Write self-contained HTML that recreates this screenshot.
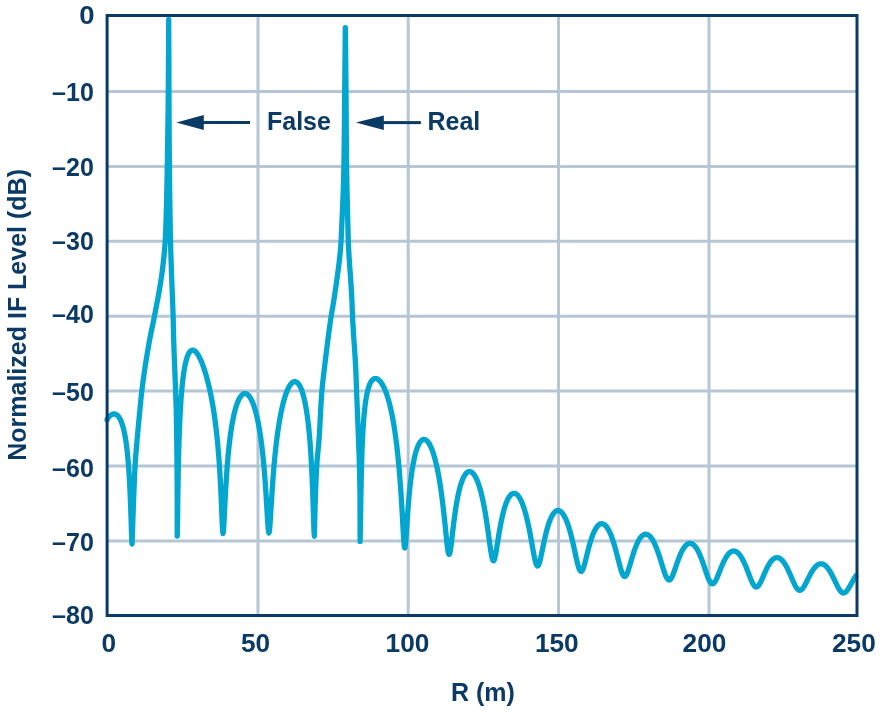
<!DOCTYPE html>
<html><head><meta charset="utf-8"><style>
html,body{margin:0;padding:0;background:#fff;}
svg{display:block;will-change:transform;}
text{font-family:"Liberation Sans",Arial,Helvetica,sans-serif;font-weight:bold;fill:#0b3a66;}
</style></head><body>
<svg width="884" height="714" viewBox="0 0 884 714">
<rect x="0" y="0" width="884" height="714" fill="#fff"/>
<g stroke="#b6c6d4" stroke-width="3" fill="none">
<line x1="107" y1="91.4" x2="857" y2="91.4"/>
<line x1="107" y1="166.4" x2="857" y2="166.4"/>
<line x1="107" y1="241.3" x2="857" y2="241.3"/>
<line x1="107" y1="316.2" x2="857" y2="316.2"/>
<line x1="107" y1="391.1" x2="857" y2="391.1"/>
<line x1="107" y1="466.0" x2="857" y2="466.0"/>
<line x1="107" y1="541.0" x2="857" y2="541.0"/>
<line x1="258.0" y1="15.5" x2="258.0" y2="615.5"/>
<line x1="408.2" y1="15.5" x2="408.2" y2="615.5"/>
<line x1="558.5" y1="15.5" x2="558.5" y2="615.5"/>
<line x1="709.0" y1="15.5" x2="709.0" y2="615.5"/>
</g>
<path d="M107.00 419.68 L107.73 418.54 L108.55 417.41 L109.38 416.44 L110.22 415.63 L111.05 414.97 L111.87 414.48 L112.70 414.14 L113.52 413.96 L114.34 413.94 L115.15 414.09 L115.96 414.40 L116.76 414.89 L117.54 415.55 L118.32 416.41 L119.09 417.45 L119.85 418.70 L120.59 420.17 L121.32 421.86 L122.04 423.80 L122.74 426.00 L123.43 428.49 L124.10 431.28 L124.75 434.40 L125.39 437.90 L126.00 441.79 L126.60 446.14 L127.18 451.00 L127.73 456.42 L128.27 462.50 L128.78 469.31 L129.28 476.99 L129.75 485.65 L130.20 495.41 L130.62 506.35 L131.03 518.28 L131.41 530.34 L131.77 540.16 L132.10 544.00 L132.28 538.10 L132.46 532.21 L132.65 526.31 L132.86 520.42 L133.06 514.52 L133.28 508.63 L133.50 502.73 L133.72 496.84 L133.94 490.94 L134.17 485.04 L134.41 479.15 L134.67 473.25 L134.97 467.36 L135.32 461.46 L135.76 455.57 L136.25 449.67 L136.77 443.78 L137.28 437.88 L137.81 431.99 L138.36 426.09 L138.92 420.19 L139.48 414.30 L140.05 408.40 L140.61 402.51 L141.19 396.61 L141.83 390.72 L142.56 384.82 L143.34 378.93 L144.18 373.03 L145.06 367.13 L145.99 361.24 L146.95 355.34 L147.95 349.45 L148.97 343.55 L150.03 337.66 L151.22 331.76 L152.48 325.87 L153.72 319.97 L154.86 314.08 L155.99 308.18 L157.11 302.28 L158.22 296.39 L159.28 290.49 L160.29 284.60 L161.22 278.70 L162.05 272.81 L162.77 266.91 L163.46 261.02 L164.09 255.12 L164.64 249.22 L165.07 243.33 L165.38 237.43 L165.64 231.54 L165.86 225.64 L166.06 219.75 L166.23 213.85 L166.40 207.96 L166.55 202.06 L166.69 196.17 L166.83 190.27 L166.96 184.37 L167.07 178.48 L167.18 172.58 L167.29 166.69 L167.39 160.79 L167.48 154.90 L167.57 149.00 L167.66 143.11 L167.74 137.21 L167.82 131.31 L167.90 125.42 L167.98 119.52 L168.06 113.63 L168.12 107.73 L168.18 101.84 L168.24 95.94 L168.28 90.05 L168.33 84.15 L168.37 78.26 L168.41 72.36 L168.45 66.46 L168.48 60.57 L168.52 54.67 L168.55 48.78 L168.58 42.88 L168.62 36.99 L168.65 31.09 L168.67 25.20 L168.70 19.30 L168.73 25.11 L168.76 30.91 L168.79 36.72 L168.81 42.52 L168.83 48.33 L168.85 54.13 L168.87 59.94 L168.89 65.74 L168.90 71.55 L168.92 77.36 L168.94 83.16 L168.96 88.97 L168.98 94.77 L169.00 100.58 L169.03 106.38 L169.05 112.19 L169.08 118.00 L169.11 123.80 L169.14 129.61 L169.17 135.41 L169.21 141.22 L169.25 147.02 L169.29 152.83 L169.34 158.63 L169.39 164.44 L169.44 170.25 L169.50 176.05 L169.57 181.86 L169.64 187.66 L169.71 193.47 L169.79 199.27 L169.87 205.08 L169.96 210.89 L170.04 216.69 L170.14 222.50 L170.24 228.30 L170.35 234.11 L170.48 239.91 L170.62 245.72 L170.78 251.52 L170.97 257.33 L171.17 263.14 L171.36 268.94 L171.57 274.75 L171.78 280.55 L172.01 286.36 L172.24 292.16 L172.47 297.97 L172.69 303.78 L172.90 309.58 L173.08 315.39 L173.24 321.19 L173.38 327.00 L173.51 332.80 L173.66 338.61 L173.84 344.41 L174.03 350.22 L174.25 356.03 L174.47 361.83 L174.71 367.64 L174.94 373.44 L175.17 379.25 L175.39 385.05 L175.60 390.86 L175.80 396.67 L175.99 402.47 L176.16 408.28 L176.28 414.08 L176.40 419.89 L176.50 425.69 L176.60 431.50 L176.69 437.30 L176.77 443.11 L176.84 448.92 L176.91 454.72 L176.96 460.53 L177.01 466.33 L177.06 472.14 L177.10 477.94 L177.14 483.75 L177.17 489.56 L177.19 495.36 L177.20 501.17 L177.20 506.97 L177.20 512.78 L177.20 518.58 L177.20 524.39 L177.20 530.19 L177.20 536.00 L177.54 518.83 L177.91 491.73 L178.30 469.28 L178.72 451.45 L179.15 436.95 L179.62 424.84 L180.10 414.52 L180.61 405.60 L181.13 397.80 L181.69 390.94 L182.26 384.87 L182.85 379.50 L183.46 374.73 L184.09 370.51 L184.75 366.79 L185.42 363.52 L186.10 360.67 L186.81 358.21 L187.53 356.12 L188.27 354.37 L189.02 352.94 L189.78 351.82 L190.56 351.00 L191.35 350.45 L192.15 350.17 L192.96 350.14 L193.78 350.35 L194.60 350.79 L195.44 351.45 L196.28 352.32 L197.12 353.39 L197.97 354.66 L198.82 356.11 L199.67 357.74 L200.53 359.53 L201.38 361.50 L202.23 363.62 L203.08 365.89 L203.92 368.31 L204.76 370.88 L205.60 373.59 L206.42 376.44 L207.24 379.44 L208.05 382.58 L208.85 385.87 L209.64 389.30 L210.42 392.89 L211.18 396.65 L211.93 400.57 L212.67 404.68 L213.39 408.99 L214.10 413.51 L214.78 418.26 L215.45 423.28 L216.11 428.57 L216.74 434.18 L217.35 440.15 L217.94 446.51 L218.51 453.31 L219.07 460.62 L219.59 468.47 L220.10 476.94 L220.58 486.04 L221.05 495.75 L221.48 505.87 L221.90 515.94 L222.29 524.92 L222.66 531.26 L223.00 533.50 L223.34 531.93 L223.71 527.30 L224.10 520.26 L224.52 511.85 L224.96 502.91 L225.42 494.01 L225.91 485.43 L226.41 477.32 L226.94 469.72 L227.50 462.62 L228.07 456.01 L228.66 449.86 L229.28 444.14 L229.91 438.82 L230.56 433.88 L231.23 429.29 L231.92 425.04 L232.63 421.11 L233.35 417.48 L234.09 414.13 L234.84 411.07 L235.61 408.27 L236.39 405.74 L237.18 403.45 L237.98 401.41 L238.79 399.62 L239.61 398.06 L240.44 396.74 L241.28 395.64 L242.12 394.77 L242.96 394.13 L243.82 393.71 L244.67 393.52 L245.52 393.54 L246.38 393.79 L247.23 394.25 L248.08 394.94 L248.94 395.84 L249.78 396.97 L250.62 398.31 L251.46 399.88 L252.29 401.68 L253.11 403.70 L253.92 405.95 L254.72 408.44 L255.51 411.17 L256.29 414.13 L257.06 417.35 L257.81 420.82 L258.55 424.55 L259.27 428.56 L259.98 432.85 L260.67 437.43 L261.34 442.32 L261.99 447.53 L262.62 453.07 L263.24 458.97 L263.83 465.23 L264.40 471.87 L264.96 478.87 L265.49 486.23 L265.99 493.89 L266.48 501.74 L266.94 509.56 L267.38 517.02 L267.80 523.62 L268.19 528.77 L268.56 531.97 L268.90 533.00 L269.24 532.14 L269.61 529.37 L270.00 524.76 L270.41 518.68 L270.84 511.61 L271.30 504.01 L271.78 496.24 L272.28 488.53 L272.81 481.02 L273.36 473.78 L273.92 466.86 L274.51 460.27 L275.12 454.01 L275.75 448.06 L276.40 442.43 L277.06 437.10 L277.75 432.05 L278.45 427.29 L279.16 422.79 L279.89 418.55 L280.64 414.56 L281.40 410.82 L282.17 407.31 L282.95 404.04 L283.75 401.00 L284.55 398.18 L285.37 395.59 L286.19 393.22 L287.02 391.07 L287.85 389.14 L288.69 387.43 L289.53 385.94 L290.38 384.66 L291.23 383.61 L292.07 382.77 L292.92 382.16 L293.77 381.77 L294.61 381.61 L295.45 381.67 L296.28 381.96 L297.11 382.49 L297.93 383.25 L298.75 384.25 L299.55 385.50 L300.35 387.00 L301.13 388.76 L301.90 390.79 L302.66 393.09 L303.41 395.67 L304.14 398.56 L304.85 401.75 L305.55 405.27 L306.24 409.13 L306.90 413.37 L307.55 418.00 L308.18 423.06 L308.79 428.59 L309.38 434.64 L309.94 441.27 L310.49 448.55 L311.02 456.55 L311.52 465.40 L312.00 475.18 L312.46 486.00 L312.89 497.87 L313.30 510.50 L313.69 522.88 L314.06 532.58 L314.40 536.30 L314.50 530.59 L314.62 524.87 L314.75 519.16 L314.90 513.44 L315.06 507.73 L315.24 502.01 L315.42 496.30 L315.62 490.58 L315.83 484.87 L316.07 479.15 L316.34 473.44 L316.64 467.72 L317.00 462.01 L317.49 456.30 L318.05 450.58 L318.60 444.87 L319.06 439.15 L319.44 433.44 L319.77 427.72 L320.07 422.01 L320.36 416.29 L320.66 410.58 L320.97 404.86 L321.31 399.15 L321.71 393.43 L322.19 387.72 L322.78 382.01 L323.45 376.29 L324.13 370.58 L324.81 364.86 L325.49 359.15 L326.18 353.43 L326.88 347.72 L327.61 342.00 L328.35 336.29 L329.12 330.57 L329.91 324.86 L330.73 319.14 L331.61 313.43 L332.61 307.72 L333.59 302.00 L334.45 296.29 L335.29 290.57 L336.13 284.86 L336.95 279.14 L337.74 273.43 L338.50 267.71 L339.19 262.00 L339.83 256.28 L340.38 250.57 L340.84 244.86 L341.20 239.14 L341.46 233.43 L341.70 227.71 L341.94 222.00 L342.18 216.28 L342.43 210.57 L342.67 204.85 L342.90 199.14 L343.12 193.42 L343.33 187.71 L343.51 181.99 L343.68 176.28 L343.81 170.57 L343.92 164.85 L344.01 159.14 L344.09 153.42 L344.16 147.71 L344.23 141.99 L344.29 136.28 L344.35 130.56 L344.41 124.85 L344.46 119.13 L344.51 113.42 L344.55 107.70 L344.60 101.99 L344.65 96.28 L344.70 90.56 L344.75 84.85 L344.81 79.13 L344.87 73.42 L344.92 67.70 L344.98 61.99 L345.03 56.27 L345.09 50.56 L345.14 44.84 L345.19 39.13 L345.25 33.41 L345.30 27.70 L345.37 33.47 L345.44 39.24 L345.52 45.02 L345.58 50.79 L345.65 56.56 L345.72 62.33 L345.78 68.10 L345.84 73.88 L345.90 79.65 L345.95 85.42 L346.00 91.19 L346.04 96.96 L346.09 102.73 L346.13 108.51 L346.16 114.28 L346.20 120.05 L346.24 125.82 L346.28 131.59 L346.33 137.37 L346.37 143.14 L346.42 148.91 L346.48 154.68 L346.54 160.45 L346.60 166.23 L346.68 172.00 L346.78 177.77 L346.88 183.54 L347.00 189.31 L347.13 195.09 L347.27 200.86 L347.41 206.63 L347.55 212.40 L347.70 218.17 L347.85 223.94 L347.99 229.72 L348.14 235.49 L348.31 241.26 L348.55 247.03 L348.85 252.80 L349.21 258.58 L349.59 264.35 L350.00 270.12 L350.42 275.89 L350.82 281.66 L351.21 287.44 L351.56 293.21 L351.85 298.98 L352.09 304.75 L352.29 310.52 L352.51 316.30 L352.80 322.07 L353.14 327.84 L353.50 333.61 L353.89 339.38 L354.29 345.16 L354.69 350.93 L355.07 356.70 L355.41 362.47 L355.72 368.24 L355.97 374.01 L356.19 379.79 L356.40 385.56 L356.61 391.33 L356.84 397.10 L357.06 402.87 L357.29 408.65 L357.51 414.42 L357.74 420.19 L357.97 425.96 L358.19 431.73 L358.41 437.51 L358.63 443.28 L358.86 449.05 L359.08 454.82 L359.28 460.59 L359.43 466.37 L359.57 472.14 L359.69 477.91 L359.81 483.68 L359.90 489.45 L359.97 495.22 L360.00 501.00 L360.03 506.77 L360.05 512.54 L360.07 518.31 L360.08 524.08 L360.09 529.86 L360.10 535.63 L360.10 541.40 L360.44 526.08 L360.79 501.31 L361.18 480.59 L361.58 464.21 L362.01 451.03 L362.46 440.18 L362.93 431.08 L363.42 423.34 L363.94 416.69 L364.48 410.93 L365.04 405.92 L365.61 401.54 L366.21 397.72 L366.83 394.38 L367.47 391.47 L368.12 388.94 L368.79 386.75 L369.48 384.87 L370.18 383.28 L370.90 381.94 L371.63 380.85 L372.38 379.98 L373.14 379.32 L373.91 378.86 L374.69 378.60 L375.48 378.51 L376.28 378.60 L377.09 378.86 L377.90 379.29 L378.72 379.89 L379.54 380.65 L380.37 381.58 L381.20 382.67 L382.03 383.93 L382.87 385.36 L383.70 386.96 L384.53 388.74 L385.36 390.71 L386.18 392.85 L387.00 395.19 L387.81 397.72 L388.62 400.45 L389.42 403.40 L390.21 406.55 L390.99 409.93 L391.76 413.53 L392.52 417.37 L393.27 421.46 L394.00 425.79 L394.72 430.39 L395.42 435.26 L396.11 440.41 L396.78 445.85 L397.43 451.60 L398.07 457.67 L398.69 464.07 L399.29 470.80 L399.86 477.88 L400.42 485.30 L400.96 493.04 L401.48 501.07 L401.97 509.29 L402.44 517.55 L402.89 525.60 L403.32 533.05 L403.72 539.42 L404.11 544.20 L404.46 547.07 L404.80 548.00 L405.13 547.16 L405.49 544.47 L405.87 540.12 L406.27 534.49 L406.69 528.09 L407.14 521.32 L407.60 514.50 L408.09 507.82 L408.61 501.40 L409.14 495.32 L409.69 489.58 L410.26 484.21 L410.86 479.20 L411.47 474.55 L412.10 470.23 L412.75 466.25 L413.41 462.58 L414.09 459.21 L414.79 456.14 L415.50 453.35 L416.23 450.84 L416.97 448.59 L417.72 446.60 L418.48 444.87 L419.26 443.38 L420.04 442.14 L420.83 441.13 L421.63 440.35 L422.44 439.81 L423.25 439.49 L424.07 439.40 L424.89 439.53 L425.71 439.88 L426.54 440.44 L427.36 441.23 L428.19 442.22 L429.01 443.43 L429.83 444.86 L430.65 446.49 L431.46 448.33 L432.27 450.39 L433.07 452.65 L433.86 455.13 L434.64 457.81 L435.42 460.70 L436.18 463.81 L436.93 467.12 L437.67 470.64 L438.40 474.38 L439.11 478.32 L439.81 482.47 L440.49 486.82 L441.15 491.36 L441.80 496.10 L442.43 501.01 L443.04 506.08 L443.64 511.27 L444.21 516.55 L444.76 521.85 L445.29 527.12 L445.81 532.24 L446.30 537.10 L446.76 541.58 L447.21 545.52 L447.63 548.82 L448.03 551.37 L448.41 553.14 L448.77 554.15 L449.10 554.50 L449.43 554.24 L449.79 553.31 L450.17 551.65 L450.57 549.27 L450.99 546.24 L451.44 542.65 L451.90 538.65 L452.39 534.37 L452.91 529.92 L453.44 525.42 L453.99 520.94 L454.56 516.54 L455.16 512.28 L455.77 508.18 L456.40 504.28 L457.05 500.57 L457.71 497.09 L458.39 493.82 L459.09 490.78 L459.80 487.97 L460.53 485.38 L461.27 483.02 L462.02 480.89 L462.78 478.97 L463.56 477.28 L464.34 475.81 L465.13 474.56 L465.93 473.52 L466.74 472.70 L467.55 472.09 L468.37 471.70 L469.19 471.51 L470.01 471.54 L470.84 471.77 L471.66 472.22 L472.49 472.86 L473.31 473.72 L474.13 474.77 L474.95 476.03 L475.76 477.50 L476.57 479.16 L477.37 481.03 L478.16 483.09 L478.94 485.35 L479.72 487.81 L480.48 490.46 L481.23 493.30 L481.97 496.33 L482.70 499.55 L483.41 502.93 L484.11 506.49 L484.79 510.20 L485.45 514.06 L486.10 518.03 L486.73 522.11 L487.34 526.26 L487.94 530.43 L488.51 534.58 L489.06 538.64 L489.59 542.56 L490.11 546.26 L490.60 549.65 L491.06 552.66 L491.51 555.22 L491.93 557.30 L492.33 558.88 L492.71 559.96 L493.07 560.58 L493.40 560.80 L493.73 560.67 L494.08 560.16 L494.46 559.22 L494.86 557.84 L495.28 556.00 L495.73 553.74 L496.19 551.10 L496.68 548.14 L497.19 544.94 L497.72 541.56 L498.27 538.08 L498.84 534.56 L499.43 531.05 L500.04 527.59 L500.67 524.22 L501.31 520.96 L501.97 517.85 L502.65 514.89 L503.35 512.09 L504.06 509.48 L504.78 507.05 L505.51 504.81 L506.26 502.77 L507.02 500.92 L507.79 499.28 L508.57 497.83 L509.36 496.58 L510.16 495.53 L510.96 494.69 L511.77 494.04 L512.58 493.60 L513.40 493.35 L514.22 493.31 L515.04 493.46 L515.86 493.81 L516.68 494.35 L517.50 495.09 L518.32 496.03 L519.13 497.15 L519.94 498.47 L520.74 499.97 L521.54 501.66 L522.33 503.53 L523.11 505.59 L523.88 507.81 L524.64 510.21 L525.39 512.77 L526.12 515.49 L526.84 518.35 L527.55 521.35 L528.25 524.47 L528.93 527.69 L529.59 531.00 L530.23 534.36 L530.86 537.75 L531.47 541.13 L532.06 544.46 L532.63 547.69 L533.18 550.78 L533.71 553.67 L534.22 556.32 L534.71 558.69 L535.17 560.73 L535.62 562.43 L536.04 563.77 L536.44 564.78 L536.82 565.46 L537.17 565.85 L537.50 566.00 L537.83 565.93 L538.18 565.63 L538.55 565.06 L538.94 564.18 L539.36 563.00 L539.79 561.50 L540.25 559.70 L540.74 557.62 L541.24 555.31 L541.76 552.79 L542.30 550.13 L542.87 547.36 L543.45 544.52 L544.05 541.67 L544.67 538.84 L545.30 536.05 L545.96 533.34 L546.63 530.72 L547.31 528.23 L548.01 525.86 L548.72 523.65 L549.45 521.58 L550.19 519.68 L550.94 517.95 L551.70 516.39 L552.47 515.01 L553.24 513.81 L554.03 512.79 L554.82 511.96 L555.62 511.32 L556.42 510.86 L557.23 510.59 L558.04 510.50 L558.84 510.60 L559.66 510.89 L560.46 511.36 L561.27 512.01 L562.08 512.85 L562.88 513.87 L563.68 515.06 L564.47 516.43 L565.26 517.97 L566.03 519.67 L566.80 521.53 L567.56 523.55 L568.31 525.72 L569.05 528.03 L569.78 530.46 L570.49 533.01 L571.19 535.66 L571.87 538.39 L572.54 541.19 L573.20 544.02 L573.83 546.87 L574.45 549.70 L575.05 552.48 L575.63 555.17 L576.20 557.74 L576.74 560.15 L577.26 562.37 L577.76 564.37 L578.25 566.12 L578.71 567.61 L579.14 568.83 L579.56 569.80 L579.95 570.51 L580.32 571.00 L580.67 571.29 L581.00 571.40 L581.33 571.36 L581.68 571.15 L582.05 570.75 L582.44 570.12 L582.86 569.26 L583.30 568.16 L583.76 566.81 L584.24 565.23 L584.75 563.44 L585.27 561.45 L585.81 559.31 L586.38 557.04 L586.96 554.69 L587.56 552.27 L588.18 549.84 L588.82 547.41 L589.48 545.02 L590.15 542.69 L590.83 540.44 L591.53 538.29 L592.25 536.25 L592.98 534.34 L593.72 532.57 L594.47 530.94 L595.23 529.47 L596.00 528.15 L596.78 527.00 L597.57 526.02 L598.36 525.21 L599.16 524.57 L599.96 524.10 L600.77 523.82 L601.58 523.70 L602.39 523.76 L603.21 524.00 L604.02 524.41 L604.83 525.00 L605.64 525.76 L606.44 526.68 L607.24 527.77 L608.03 529.02 L608.82 530.43 L609.60 532.00 L610.37 533.70 L611.13 535.55 L611.88 537.53 L612.62 539.62 L613.35 541.83 L614.07 544.12 L614.77 546.49 L615.45 548.92 L616.12 551.39 L616.78 553.88 L617.42 556.35 L618.04 558.78 L618.64 561.14 L619.22 563.41 L619.79 565.55 L620.33 567.53 L620.85 569.33 L621.36 570.94 L621.84 572.34 L622.30 573.51 L622.74 574.48 L623.16 575.23 L623.55 575.79 L623.92 576.18 L624.27 576.40 L624.60 576.50 L624.93 576.47 L625.29 576.29 L625.67 575.97 L626.07 575.46 L626.50 574.76 L626.94 573.86 L627.41 572.76 L627.90 571.46 L628.41 569.96 L628.95 568.29 L629.50 566.47 L630.08 564.53 L630.67 562.49 L631.28 560.38 L631.92 558.24 L632.57 556.08 L633.23 553.94 L633.91 551.83 L634.61 549.79 L635.33 547.82 L636.06 545.95 L636.80 544.18 L637.55 542.54 L638.32 541.02 L639.09 539.65 L639.88 538.41 L640.67 537.33 L641.47 536.41 L642.28 535.64 L643.09 535.03 L643.91 534.59 L644.73 534.31 L645.56 534.20 L646.39 534.26 L647.21 534.48 L648.04 534.86 L648.87 535.41 L649.69 536.12 L650.51 536.98 L651.32 538.00 L652.13 539.16 L652.93 540.47 L653.72 541.92 L654.51 543.50 L655.28 545.19 L656.05 547.00 L656.80 548.91 L657.54 550.90 L658.27 552.97 L658.99 555.08 L659.69 557.23 L660.37 559.40 L661.03 561.56 L661.68 563.68 L662.32 565.75 L662.93 567.74 L663.52 569.62 L664.10 571.37 L664.65 572.98 L665.19 574.43 L665.70 575.70 L666.19 576.80 L666.66 577.72 L667.10 578.46 L667.53 579.04 L667.93 579.47 L668.31 579.76 L668.67 579.93 L669.00 580.00 L669.32 579.99 L669.67 579.87 L670.04 579.65 L670.43 579.30 L670.84 578.81 L671.28 578.16 L671.74 577.35 L672.21 576.38 L672.71 575.26 L673.23 573.98 L673.77 572.56 L674.33 571.01 L674.91 569.36 L675.50 567.63 L676.12 565.83 L676.75 563.99 L677.40 562.14 L678.06 560.29 L678.74 558.47 L679.44 556.70 L680.15 554.99 L680.87 553.35 L681.60 551.81 L682.34 550.37 L683.10 549.04 L683.86 547.84 L684.64 546.77 L685.42 545.83 L686.20 545.03 L686.99 544.39 L687.79 543.89 L688.59 543.54 L689.39 543.34 L690.20 543.30 L691.00 543.42 L691.81 543.69 L692.61 544.11 L693.41 544.69 L694.21 545.41 L695.00 546.28 L695.78 547.29 L696.56 548.44 L697.34 549.71 L698.10 551.11 L698.86 552.62 L699.60 554.24 L700.33 555.95 L701.05 557.73 L701.76 559.59 L702.46 561.49 L703.14 563.42 L703.80 565.37 L704.45 567.30 L705.08 569.20 L705.70 571.05 L706.29 572.83 L706.87 574.51 L707.43 576.08 L707.97 577.51 L708.49 578.80 L708.99 579.94 L709.46 580.92 L709.92 581.74 L710.36 582.40 L710.77 582.92 L711.16 583.31 L711.53 583.57 L711.88 583.73 L712.20 583.80 L712.53 583.79 L712.88 583.70 L713.26 583.52 L713.66 583.23 L714.08 582.83 L714.52 582.30 L714.99 581.63 L715.47 580.83 L715.98 579.88 L716.51 578.81 L717.06 577.60 L717.63 576.28 L718.22 574.86 L718.82 573.35 L719.45 571.78 L720.09 570.16 L720.75 568.51 L721.43 566.85 L722.12 565.21 L722.83 563.60 L723.55 562.03 L724.29 560.52 L725.03 559.10 L725.79 557.76 L726.56 556.52 L727.34 555.38 L728.13 554.37 L728.92 553.48 L729.72 552.72 L730.53 552.09 L731.34 551.60 L732.15 551.26 L732.97 551.06 L733.79 551.00 L734.61 551.09 L735.43 551.32 L736.25 551.70 L737.06 552.22 L737.87 552.88 L738.68 553.68 L739.48 554.60 L740.27 555.65 L741.06 556.83 L741.84 558.11 L742.61 559.49 L743.37 560.97 L744.11 562.53 L744.85 564.15 L745.57 565.83 L746.28 567.55 L746.97 569.29 L747.65 571.02 L748.31 572.74 L748.95 574.43 L749.58 576.06 L750.18 577.61 L750.77 579.07 L751.34 580.43 L751.89 581.66 L752.42 582.77 L752.93 583.74 L753.41 584.57 L753.88 585.26 L754.32 585.83 L754.74 586.26 L755.14 586.59 L755.52 586.81 L755.87 586.94 L756.20 587.00 L756.53 586.99 L756.87 586.91 L757.24 586.75 L757.64 586.49 L758.05 586.12 L758.49 585.64 L758.95 585.04 L759.43 584.31 L759.93 583.45 L760.45 582.47 L760.99 581.38 L761.55 580.18 L762.13 578.88 L762.73 577.51 L763.35 576.08 L763.99 574.60 L764.64 573.10 L765.31 571.60 L765.99 570.10 L766.69 568.63 L767.40 567.21 L768.12 565.85 L768.86 564.56 L769.61 563.35 L770.36 562.24 L771.13 561.23 L771.91 560.34 L772.69 559.56 L773.48 558.91 L774.28 558.38 L775.08 557.99 L775.88 557.73 L776.69 557.61 L777.50 557.63 L778.30 557.78 L779.11 558.07 L779.92 558.49 L780.72 559.04 L781.52 559.73 L782.32 560.53 L783.11 561.46 L783.89 562.50 L784.67 563.64 L785.44 564.87 L786.19 566.20 L786.94 567.59 L787.68 569.05 L788.40 570.56 L789.11 572.11 L789.81 573.67 L790.49 575.24 L791.16 576.79 L791.81 578.31 L792.45 579.79 L793.07 581.20 L793.67 582.53 L794.25 583.77 L794.81 584.91 L795.35 585.94 L795.87 586.85 L796.37 587.65 L796.85 588.33 L797.31 588.89 L797.75 589.34 L798.16 589.70 L798.56 589.96 L798.93 590.14 L799.27 590.25 L799.60 590.30 L799.93 590.30 L800.28 590.23 L800.65 590.11 L801.05 589.91 L801.47 589.62 L801.91 589.24 L802.37 588.76 L802.85 588.17 L803.35 587.48 L803.88 586.68 L804.43 585.77 L804.99 584.77 L805.58 583.68 L806.18 582.51 L806.80 581.28 L807.44 580.00 L808.10 578.68 L808.77 577.33 L809.46 575.99 L810.16 574.66 L810.87 573.35 L811.60 572.08 L812.35 570.87 L813.10 569.72 L813.86 568.66 L814.64 567.68 L815.42 566.79 L816.21 566.01 L817.00 565.34 L817.80 564.79 L818.61 564.35 L819.42 564.04 L820.23 563.86 L821.04 563.80 L821.86 563.87 L822.67 564.07 L823.48 564.40 L824.29 564.85 L825.10 565.42 L825.90 566.11 L826.69 566.91 L827.48 567.82 L828.26 568.83 L829.04 569.93 L829.80 571.11 L830.55 572.36 L831.30 573.68 L832.03 575.04 L832.74 576.44 L833.44 577.86 L834.13 579.28 L834.80 580.69 L835.46 582.07 L836.10 583.41 L836.72 584.70 L837.32 585.91 L837.91 587.04 L838.47 588.08 L839.02 589.02 L839.55 589.85 L840.05 590.58 L840.53 591.20 L840.99 591.71 L841.43 592.13 L841.85 592.45 L842.25 592.69 L842.62 592.86 L842.97 592.96 L843.30 593.00 L843.63 592.99 L843.98 592.94 L844.35 592.82 L844.75 592.64 L845.17 592.39 L845.61 592.05 L846.07 591.62 L846.55 591.11 L847.05 590.50 L847.58 589.79 L848.13 588.99 L848.69 588.11 L849.28 587.14 L849.88 586.11 L850.50 585.01 L851.14 583.87 L851.80 582.70 L852.47 581.50 L853.16 580.30 L853.86 579.10 L854.57 577.93 L855.30 576.80 L856.05 575.71 L856.80 574.69 L857.00 574.43" fill="none" stroke="#03a6cf" stroke-width="5.3" stroke-linejoin="round" stroke-linecap="butt"/>
<circle cx="107.00" cy="419.68" r="2.65" fill="#03a6cf"/>
<rect x="107.1" y="15.5" width="749.9" height="600" fill="none" stroke="#0b3a66" stroke-width="3"/>
<g fill="#0b3a66" stroke="none">
<polygon points="176.3,122.5 203.8,115.1 203.8,130.0"/>
<rect x="203" y="121" width="47" height="3"/>
<polygon points="355.9,122.6 383.8,115.4 383.8,129.9"/>
<rect x="383" y="121.1" width="37.9" height="3"/>
</g>
<g font-size="25">
<text transform="translate(94.6,24) scale(1.1,1)" text-anchor="end">0</text>
<text x="93.8" y="101.0" text-anchor="end">–10</text>
<text x="93.8" y="176.0" text-anchor="end">–20</text>
<text x="93.8" y="249.9" text-anchor="end">–30</text>
<text x="93.8" y="322.9" text-anchor="end">–40</text>
<text x="93.8" y="400.8" text-anchor="end">–50</text>
<text x="93.8" y="477.0" text-anchor="end">–60</text>
<text x="93.8" y="550.8" text-anchor="end">–70</text>
<text x="93.8" y="623.7" text-anchor="end">–80</text>
<text transform="translate(108.7,652) scale(1.05,1)" text-anchor="middle">0</text>
<text transform="translate(255.5,652) scale(1.05,1)" text-anchor="middle">50</text>
<text transform="translate(407.5,652) scale(1.05,1)" text-anchor="middle">100</text>
<text transform="translate(556.8,652) scale(1.05,1)" text-anchor="middle">150</text>
<text transform="translate(704.5,652) scale(1.05,1)" text-anchor="middle">200</text>
<text transform="translate(853.9,652) scale(1.05,1)" text-anchor="middle">250</text>
<text x="267" y="130.2">False</text>
<text x="427.5" y="130.3">Real</text>
<text x="482.9" y="701" text-anchor="middle">R (m)</text>
<text transform="translate(26,314.9) rotate(-90)" x="0" y="0" text-anchor="middle">Normalized IF Level (dB)</text>
</g>
</svg>
</body></html>
